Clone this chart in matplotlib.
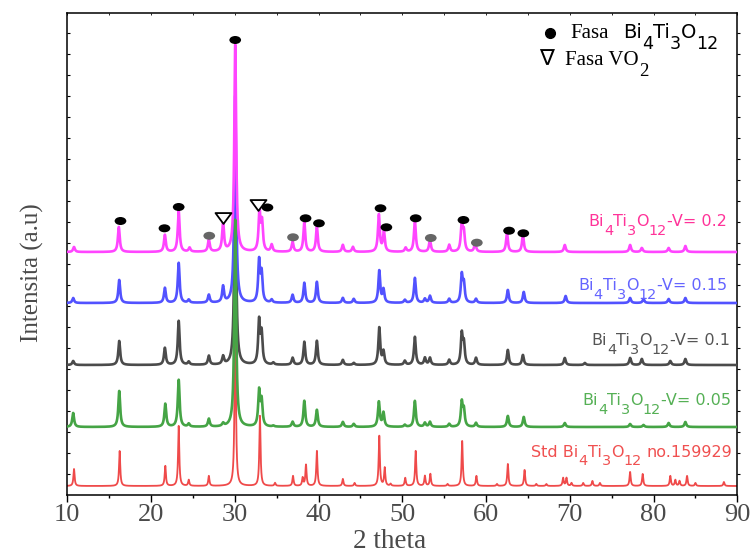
import numpy as np
import matplotlib
matplotlib.use("Agg")
import matplotlib.pyplot as plt
from matplotlib.patches import Ellipse
from matplotlib.path import Path

# ---------------- data ----------------
two_theta_range = (10, 90)

# Std Bi4Ti3O12 no.159929 (red)
std_pos = [10.8, 16.25, 21.7, 23.3, 24.5, 26.9, 30.05, 33.0, 34.8, 36.95, 38.1, 38.5, 39.8,
           42.9, 44.3, 47.25, 47.9, 48.6, 50.35, 51.6, 52.7, 53.35, 55.4, 57.15, 58.85,
           61.3, 62.6, 64.6, 66.0, 67.2, 69.2, 69.6, 70.2, 71.6, 72.7, 73.6, 77.2, 78.7,
           82.0, 82.6, 83.1, 84.0, 85.0, 88.4]
std_h = [17, 35, 20, 60, 6, 10, 200, 70, 3, 10, 8, 21, 35,
         7, 3, 50, 18, 2, 8, 35, 10, 12, 2, 45, 10,
         2, 22, 16, 2, 2, 8, 8, 3, 3, 5, 3, 14, 12,
         10, 6, 5, 10, 3, 4]

# V = 0.05 (green)
v005_pos = [10.7, 16.2, 21.7, 23.3, 24.5, 26.9, 28.6, 30.05, 32.9, 33.2, 34.6, 36.9, 38.3,
            39.8, 42.9, 44.2, 47.2, 47.75, 50.3, 51.5, 52.7, 53.3, 55.6, 57.1, 57.35, 58.8,
            62.6, 64.5, 69.4, 77.2, 78.8, 81.8, 83.8]
v005_h = [14, 36, 23, 47, 3, 8, 3, 207, 35, 25, 1, 5, 26,
          17, 5, 3, 25, 14, 2, 26, 4, 5, 3, 24, 16, 4,
          11, 10, 4, 3, 2, 4, 5]

# V = 0.1 (dark grey)
v01_pos = [10.7, 16.2, 21.65, 23.3, 24.5, 26.9, 28.6, 30.05, 32.9, 33.2, 34.6, 36.9, 38.3,
           39.8, 42.9, 44.2, 47.25, 47.75, 50.3, 51.5, 52.7, 53.3, 55.6, 57.1, 57.35, 58.8,
           62.6, 64.4, 69.4, 71.8, 77.2, 78.6, 82.0, 83.8]
v01_h = [4, 24, 17, 44, 3, 9, 8, 207, 43, 30, 2, 7, 23,
         24, 5, 2, 37, 13, 4, 28, 7, 7, 5, 30, 20, 7,
         15, 10, 7, 2, 7, 6, 4, 6]

# V = 0.15 (blue)
v015_pos = [10.7, 16.2, 21.65, 23.3, 24.5, 26.9, 28.6, 30.05, 32.9, 33.2, 34.4, 36.9, 38.3,
            39.8, 42.9, 44.2, 47.25, 47.75, 50.3, 51.5, 52.7, 53.3, 55.6, 57.1, 57.35, 58.8,
            62.6, 64.5, 69.5, 77.2, 78.8, 81.8, 83.8]
v015_h = [5, 23, 15, 40, 3, 8, 16, 207, 41, 28, 3, 8, 20,
          21, 5, 4, 32, 13, 3, 25, 4, 7, 4, 27, 18, 4,
          13, 11, 7, 5, 4, 4, 5]

# V = 0.2 (magenta)
v02_pos = [10.8, 16.15, 21.65, 23.3, 24.6, 26.9, 28.6, 30.05, 32.95, 33.25, 34.4, 36.9, 38.3,
           39.8, 42.9, 44.1, 47.2, 47.8, 50.4, 51.5, 53.3, 55.6, 57.1, 57.35, 58.7, 62.5,
           64.4, 69.4, 77.2, 78.6, 81.8, 83.8]
v02_h = [5, 25, 17, 41, 4, 12, 29, 207, 40, 28, 7, 10, 30,
         25, 7, 5, 37, 20, 4, 32, 12, 7, 29, 18, 9, 19,
         17, 7, 7, 4, 4, 6]

series_names = ["Std", "V=0.05", "V=0.1", "V=0.15", "V=0.2"]
series_offsets = [8.5, 67.5, 129.5, 191.5, 242.5]

# phase markers on the V = 0.2 pattern
bit_phase_x = [16.35, 21.6, 23.3, 30.05, 33.9, 38.45, 40.05, 47.4, 48.1, 51.6, 57.3, 62.75, 64.45]
bit_phase_y = [273.5, 266.2, 287.5, 454.5, 287.0, 276.2, 271.2, 286.2, 267.2, 276.2, 274.5, 263.8, 261.2]
grey_phase_x = [26.95, 36.95, 53.4, 58.9]
grey_phase_y = [258.7, 257.2, 256.5, 251.8]
vo2_phase_x = [28.55, 32.75]
vo2_phase_y = [276.5, 289.5]

# ---------------- figure ----------------
W, H = 754, 556
fig = plt.figure(figsize=(W / 100, H / 100), dpi=100)
ax_l, ax_r, ax_t, ax_b = 67.3, 737.3, 12.7, 494.5
ax = fig.add_axes([ax_l / W, 1 - ax_b / H, (ax_r - ax_l) / W, (ax_b - ax_t) / H])
ax.set_xlim(*two_theta_range)
ax.set_ylim(0, ax_b - ax_t)

x = np.linspace(two_theta_range[0], two_theta_range[1], 16001)


def pattern(pos, h, gamma):
    y = np.zeros_like(x)
    for p, hh in zip(pos, h):
        y += hh / (1.0 + ((x - p) / gamma) ** 2)
    return y


styles = {
    "Std": dict(color="#ef4a4a", lw=1.3, z=2, gamma=0.085),
    "V=0.05": dict(color="#45a445", lw=1.9, z=6, gamma=0.13),
    "V=0.1": dict(color="#4b4b4b", lw=1.9, z=3, gamma=0.13),
    "V=0.15": dict(color="#5252ff", lw=1.9, z=4, gamma=0.13),
    "V=0.2": dict(color="#ff45ff", lw=1.9, z=5, gamma=0.13),
}
all_pos = [std_pos, v005_pos, v01_pos, v015_pos, v02_pos]
all_h = [std_h, v005_h, v01_h, v015_h, v02_h]
for name, pos, h, off in zip(series_names, all_pos, all_h, series_offsets):
    st = styles[name]
    ax.plot(x, off + pattern(pos, h, st["gamma"]), color=st["color"], lw=st["lw"],
            zorder=st["z"], solid_joinstyle="round")

# phase markers
px_per_deg = (ax_r - ax_l) / (two_theta_range[1] - two_theta_range[0])
ew, eh = 11.7 / px_per_deg, 8.0
for xx, yy in zip(bit_phase_x, bit_phase_y):
    ax.add_patch(Ellipse((xx, yy), ew, eh, facecolor="black", edgecolor="none", zorder=8))
for xx, yy in zip(grey_phase_x, grey_phase_y):
    ax.add_patch(Ellipse((xx, yy), ew, eh, facecolor="#666666", edgecolor="none", zorder=8))
tri = Path([(-1, 0.68), (1, 0.68), (0, -0.68), (-1, 0.68)],
           [Path.MOVETO, Path.LINETO, Path.LINETO, Path.CLOSEPOLY])
ax.plot(vo2_phase_x, vo2_phase_y, ls="none", marker=tri, ms=11.5, mfc="white",
        mec="black", mew=1.3, zorder=8)

# axes styling
for sp in ax.spines.values():
    sp.set_linewidth(1.1)
    sp.set_color("black")
ax.set_xticks(np.arange(10, 91, 10))
ax.set_xticks(np.arange(15, 90, 10), minor=True)
ax.tick_params(axis="x", which="major", direction="out", length=5, width=1.0,
               labelsize=19, labelcolor="#4a4a4a", pad=2)
ax.tick_params(axis="x", which="minor", direction="out", length=2.5, width=1.0)
for lab in ax.get_xticklabels():
    lab.set_family("Liberation Serif")
yt = np.arange(20.2, 470, 21.0)
ax.set_yticks(yt)
ax.tick_params(axis="y", which="major", direction="in", length=2.5, width=0.8,
               labelleft=False)
sec_top = ax.secondary_xaxis("top")
sec_top.set_xticks(np.arange(10, 91, 5))
sec_top.tick_params(direction="in", length=1.5, width=0.6, labeltop=False)
sec_top.spines["top"].set_visible(False)
sec_right = ax.secondary_yaxis("right")
sec_right.set_yticks(yt)
sec_right.tick_params(direction="out", length=2.5, width=0.8, labelright=False)
sec_right.spines["right"].set_visible(False)

# axis labels
fig.text(390 / W, 1 - 548.5 / H, "2 theta", family="Liberation Serif", fontsize=19.5,
         color="#4a4a4a", ha="center", va="baseline")
fig.text(32 / W, 1 - 273 / H, "Intensita (a.u)", family="Liberation Serif", fontsize=18,
         color="#4a4a4a", ha="center", va="center", rotation=90)

renderer = fig.canvas.get_renderer()


def rich_text(x_px, y_px, pieces, size, color, family, ha="left", sub_scale=0.9,
              sub_drop=0.55):
    """pieces: list of (text, is_subscript, gap_before_px)"""
    objs = []
    for s, sub, gap in pieces:
        fs = size * sub_scale if sub else size
        t = fig.text(0, 0, s, fontsize=fs, color=color, family=family,
                     ha="left", va="baseline")
        w = t.get_window_extent(renderer).width
        objs.append((t, sub, gap, w))
    total = sum(o[2] + o[3] for o in objs)
    cur = x_px - total if ha == "right" else x_px
    for t, sub, gap, w in objs:
        cur += gap
        dy = size * sub_drop * 100 / 72 if sub else 0
        t.set_position((cur / W, 1 - (y_px + dy) / H))
        cur += w


def formula(prefix=None, suffix=None, size=11.5):
    sp = 0.32 * size * 100 / 72
    p = []
    if prefix:
        p.append((prefix + " Bi", False, 0))
    else:
        p.append(("Bi", False, 0))
    p += [("4", True, 0), ("Ti", False, 0), ("3", True, 0), ("O", False, 0), ("12", True, 0)]
    if suffix:
        if suffix.startswith(" "):
            p.append((suffix.strip(), False, sp))
        else:
            p.append((suffix, False, 0))
    return p


lab_size = 11.5
rich_text(726.7, 226, formula(suffix="-V= 0.2", size=lab_size), lab_size, "#ff3399",
          "DejaVu Sans", ha="right")
rich_text(726.7, 290, formula(suffix="-V= 0.15", size=lab_size), lab_size, "#6464ff",
          "DejaVu Sans", ha="right")
rich_text(730, 345, formula(suffix="-V= 0.1", size=lab_size), lab_size, "#555555",
          "DejaVu Sans", ha="right")
rich_text(730.7, 405, formula(suffix="-V= 0.05", size=lab_size), lab_size, "#55b055",
          "DejaVu Sans", ha="right")
rich_text(732.3, 456.7, formula(prefix="Std", suffix=" no.159929", size=lab_size), lab_size,
          "#f05050", "DejaVu Sans", ha="right")

# legend (top right)
fig.lines.append(plt.Line2D([550 / W], [1 - 32.5 / H], transform=fig.transFigure,
                            marker="o", ms=7, color="black", ls="none"))
fig.text(570 / W, 1 - 38.3 / H, "Fasa", family="Liberation Serif", fontsize=15,
         color="black", ha="left", va="baseline")
rich_text(623, 38.3, [("Bi", False, 0), ("4", True, 0), ("Ti", False, 0), ("3", True, 0),
                      ("O", False, 0), ("12", True, 0)], 14, "black", "DejaVu Sans")
fig.text(539 / W, 1 - 65.5 / H, "\u2207", family=["DejaVu Sans"], fontsize=16,
         color="black", ha="left", va="baseline")
rich_text(565, 65, [("Fasa VO", False, 0), ("2", True, 0)], 15, "black",
          "Liberation Serif")

fig.savefig("out.png", dpi=100)
